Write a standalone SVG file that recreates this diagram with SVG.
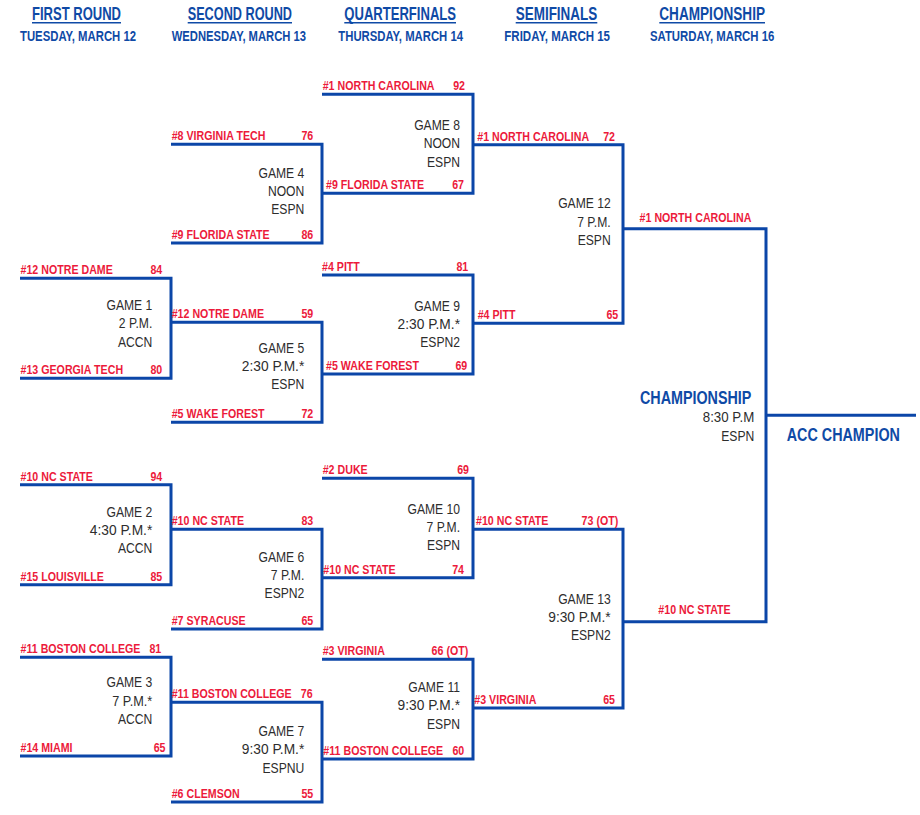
<svg xmlns="http://www.w3.org/2000/svg" width="920" height="815" viewBox="0 0 920 815">
<style>
.bg{fill:#ffffff}
.ln{fill:none;stroke:#0b46a8;stroke-width:3;stroke-linejoin:miter;stroke-linecap:butt}
.ul{stroke:#0f4aa6;stroke-width:1.4}
.h{font-family:"Liberation Sans",Arial,sans-serif;font-weight:bold;font-size:18.5px;fill:#0f4aa6}
.d{font-family:"Liberation Sans",Arial,sans-serif;font-weight:bold;font-size:14px;fill:#0f4aa6}
.t{font-family:"Liberation Sans",Arial,sans-serif;font-weight:bold;font-size:13px;fill:#ec1a3b}
.s{font-family:"Liberation Sans",Arial,sans-serif;font-weight:bold;font-size:13px;fill:#ec1a3b;text-anchor:end}
.c{font-family:"Liberation Sans",Arial,sans-serif;font-weight:bold;font-size:13px;fill:#ec1a3b;text-anchor:middle}
.g{font-family:"Liberation Sans",Arial,sans-serif;font-size:14.8px;fill:#2d2d2d;text-anchor:end}
.b{font-family:"Liberation Sans",Arial,sans-serif;font-weight:bold;font-size:19px;fill:#0f4aa6}
</style>
<rect class="bg" x="0" y="0" width="920" height="815"/>

<g id="headers">
  <text class="h" x="32" y="20" textLength="89" lengthAdjust="spacingAndGlyphs">FIRST ROUND</text>
  <line class="ul" x1="32" y1="22.7" x2="121" y2="22.7"/>
  <text class="d" x="20" y="40.7" textLength="116" lengthAdjust="spacingAndGlyphs">TUESDAY, MARCH 12</text>
  <text class="h" x="187.7" y="20" textLength="104.3" lengthAdjust="spacingAndGlyphs">SECOND ROUND</text>
  <line class="ul" x1="187.7" y1="22.7" x2="292" y2="22.7"/>
  <text class="d" x="171.7" y="40.7" textLength="134.3" lengthAdjust="spacingAndGlyphs">WEDNESDAY, MARCH 13</text>
  <text class="h" x="344.3" y="20" textLength="111.7" lengthAdjust="spacingAndGlyphs">QUARTERFINALS</text>
  <line class="ul" x1="344.3" y1="22.7" x2="456" y2="22.7"/>
  <text class="d" x="338.3" y="40.7" textLength="124.7" lengthAdjust="spacingAndGlyphs">THURSDAY, MARCH 14</text>
  <text class="h" x="515.7" y="20" textLength="81.6" lengthAdjust="spacingAndGlyphs">SEMIFINALS</text>
  <line class="ul" x1="515.7" y1="22.7" x2="597.3" y2="22.7"/>
  <text class="d" x="504.3" y="40.7" textLength="105.7" lengthAdjust="spacingAndGlyphs">FRIDAY, MARCH 15</text>
  <text class="h" x="659.3" y="20" textLength="105.7" lengthAdjust="spacingAndGlyphs">CHAMPIONSHIP</text>
  <line class="ul" x1="659.3" y1="22.7" x2="765" y2="22.7"/>
  <text class="d" x="650" y="40.7" textLength="124.3" lengthAdjust="spacingAndGlyphs">SATURDAY, MARCH 16</text>
</g>

<g id="connectors">
  <path class="ln" d="M20 278.3 H171 V378.3 H20"/>
  <path class="ln" d="M20 484.7 H171 V584.7 H20"/>
  <path class="ln" d="M20 657.3 H171 V756 H20"/>
  <path class="ln" d="M171 144.3 H322 V243 H171"/>
  <path class="ln" d="M171 322.3 H322 V422.3 H171"/>
  <path class="ln" d="M171 529.3 H322 V629 H171"/>
  <path class="ln" d="M171 702.3 H322 V802 H171"/>
  <path class="ln" d="M322 94.3 H473 V193.3 H322"/>
  <path class="ln" d="M322 275 H473 V374 H322"/>
  <path class="ln" d="M322 478.3 H473 V577.7 H322"/>
  <path class="ln" d="M322 659.3 H473 V759 H322"/>
  <path class="ln" d="M473 144.8 H623 V323.3 H473"/>
  <path class="ln" d="M473 529.3 H623 V708 H473"/>
  <path class="ln" d="M623 228.8 H766 V621.7 H623"/>
  <path class="ln" d="M766 415.3 H916"/>
</g>

<g id="game-1">
  <text class="t" transform="translate(20.5 274.3) scale(.82 1)">#12 NOTRE DAME</text>
  <text class="s" transform="translate(162.3 274.3) scale(.82 1)">84</text>
  <text class="g" transform="translate(152.3 310) scale(.82 1)">GAME 1</text>
  <text class="g" transform="translate(152.3 328.3) scale(.82 1)">2 P.M.</text>
  <text class="g" transform="translate(152.3 346.7) scale(.82 1)">ACCN</text>
  <text class="t" transform="translate(20.5 374.3) scale(.82 1)">#13 GEORGIA TECH</text>
  <text class="s" transform="translate(162.3 374.3) scale(.82 1)">80</text>
</g>
<g id="game-2">
  <text class="t" transform="translate(20.5 480.7) scale(.82 1)">#10 NC STATE</text>
  <text class="s" transform="translate(162.3 480.7) scale(.82 1)">94</text>
  <text class="g" transform="translate(152.3 516.7) scale(.82 1)">GAME 2</text>
  <text class="g" transform="translate(152.3 535) scale(.93 1)">4:30 P.M.*</text>
  <text class="g" transform="translate(152.3 553.3) scale(.82 1)">ACCN</text>
  <text class="t" transform="translate(20.5 580.7) scale(.82 1)">#15 LOUISVILLE</text>
  <text class="s" transform="translate(162.3 580.7) scale(.82 1)">85</text>
</g>
<g id="game-3">
  <text class="t" transform="translate(20.5 653.3) scale(.82 1)">#11 BOSTON COLLEGE</text>
  <text class="s" transform="translate(161.3 653.3) scale(.82 1)">81</text>
  <text class="g" transform="translate(152.3 687.3) scale(.82 1)">GAME 3</text>
  <text class="g" transform="translate(152.3 706) scale(.86 1)">7 P.M.*</text>
  <text class="g" transform="translate(152.3 724.3) scale(.82 1)">ACCN</text>
  <text class="t" transform="translate(20.5 752) scale(.82 1)">#14 MIAMI</text>
  <text class="s" transform="translate(165.5 752) scale(.82 1)">65</text>
</g>
<g id="game-4">
  <text class="t" transform="translate(171.7 140.3) scale(.82 1)">#8 VIRGINIA TECH</text>
  <text class="s" transform="translate(313.3 140.3) scale(.82 1)">76</text>
  <text class="g" transform="translate(304.3 177.5) scale(.82 1)">GAME 4</text>
  <text class="g" transform="translate(304.3 196) scale(.82 1)">NOON</text>
  <text class="g" transform="translate(304.3 214.3) scale(.82 1)">ESPN</text>
  <text class="t" transform="translate(171.7 239) scale(.82 1)">#9 FLORIDA STATE</text>
  <text class="s" transform="translate(313.3 239) scale(.82 1)">86</text>
</g>
<g id="game-5">
  <text class="t" transform="translate(171.7 318.3) scale(.82 1)">#12 NOTRE DAME</text>
  <text class="s" transform="translate(313.3 318.3) scale(.82 1)">59</text>
  <text class="g" transform="translate(304.3 353.3) scale(.82 1)">GAME 5</text>
  <text class="g" transform="translate(304.3 371) scale(.93 1)">2:30 P.M.*</text>
  <text class="g" transform="translate(304.3 389.3) scale(.82 1)">ESPN</text>
  <text class="t" transform="translate(171.7 418.3) scale(.82 1)">#5 WAKE FOREST</text>
  <text class="s" transform="translate(313.3 418.3) scale(.82 1)">72</text>
</g>
<g id="game-6">
  <text class="t" transform="translate(171.7 525.3) scale(.82 1)">#10 NC STATE</text>
  <text class="s" transform="translate(313.3 525.3) scale(.82 1)">83</text>
  <text class="g" transform="translate(304.3 561.7) scale(.82 1)">GAME 6</text>
  <text class="g" transform="translate(304.3 580) scale(.82 1)">7 P.M.</text>
  <text class="g" transform="translate(304.3 597.7) scale(.82 1)">ESPN2</text>
  <text class="t" transform="translate(171.7 625) scale(.82 1)">#7 SYRACUSE</text>
  <text class="s" transform="translate(313.3 625) scale(.82 1)">65</text>
</g>
<g id="game-7">
  <text class="t" transform="translate(171.7 698.3) scale(.82 1)">#11 BOSTON COLLEGE</text>
  <text class="s" transform="translate(312.7 698.3) scale(.82 1)">76</text>
  <text class="g" transform="translate(304.3 735.7) scale(.82 1)">GAME 7</text>
  <text class="g" transform="translate(304.3 754) scale(.93 1)">9:30 P.M.*</text>
  <text class="g" transform="translate(304.3 772.7) scale(.82 1)">ESPNU</text>
  <text class="t" transform="translate(171.7 798) scale(.82 1)">#6 CLEMSON</text>
  <text class="s" transform="translate(313.3 798) scale(.82 1)">55</text>
</g>
<g id="game-8">
  <text class="t" transform="translate(322.7 90.3) scale(.82 1)">#1 NORTH CAROLINA</text>
  <text class="s" transform="translate(465 90.3) scale(.82 1)">92</text>
  <text class="g" transform="translate(460 130) scale(.82 1)">GAME 8</text>
  <text class="g" transform="translate(460 148.3) scale(.82 1)">NOON</text>
  <text class="g" transform="translate(460 166.7) scale(.82 1)">ESPN</text>
  <text class="t" transform="translate(326 189.3) scale(.82 1)">#9 FLORIDA STATE</text>
  <text class="s" transform="translate(464 189.3) scale(.82 1)">67</text>
</g>
<g id="game-9">
  <text class="t" transform="translate(322 271) scale(.82 1)">#4 PITT</text>
  <text class="s" transform="translate(468.3 271) scale(.82 1)">81</text>
  <text class="g" transform="translate(460 311) scale(.82 1)">GAME 9</text>
  <text class="g" transform="translate(460 328.7) scale(.93 1)">2:30 P.M.*</text>
  <text class="g" transform="translate(460 347) scale(.82 1)">ESPN2</text>
  <text class="t" transform="translate(326 370) scale(.82 1)">#5 WAKE FOREST</text>
  <text class="s" transform="translate(467.3 370) scale(.82 1)">69</text>
</g>
<g id="game-10">
  <text class="t" transform="translate(322.7 474.3) scale(.82 1)">#2 DUKE</text>
  <text class="s" transform="translate(469 474.3) scale(.82 1)">69</text>
  <text class="g" transform="translate(460 514) scale(.82 1)">GAME 10</text>
  <text class="g" transform="translate(460 532) scale(.82 1)">7 P.M.</text>
  <text class="g" transform="translate(460 550) scale(.82 1)">ESPN</text>
  <text class="t" transform="translate(323.3 573.7) scale(.82 1)">#10 NC STATE</text>
  <text class="s" transform="translate(464 573.7) scale(.82 1)">74</text>
</g>
<g id="game-11">
  <text class="t" transform="translate(322.7 655.3) scale(.82 1)">#3 VIRGINIA</text>
  <text class="s" transform="translate(468.3 655.3) scale(.82 1)">66 (OT)</text>
  <text class="g" transform="translate(460 691.7) scale(.82 1)">GAME 11</text>
  <text class="g" transform="translate(460 710) scale(.93 1)">9:30 P.M.*</text>
  <text class="g" transform="translate(460 728.7) scale(.82 1)">ESPN</text>
  <text class="t" transform="translate(323.3 755) scale(.82 1)">#11 BOSTON COLLEGE</text>
  <text class="s" transform="translate(464.3 755) scale(.82 1)">60</text>
</g>
<g id="game-12">
  <text class="t" transform="translate(477.3 140.8) scale(.82 1)">#1 NORTH CAROLINA</text>
  <text class="s" transform="translate(615 140.8) scale(.82 1)">72</text>
  <text class="g" transform="translate(610.7 208.3) scale(.82 1)">GAME 12</text>
  <text class="g" transform="translate(610.7 226.7) scale(.82 1)">7 P.M.</text>
  <text class="g" transform="translate(610.7 245) scale(.82 1)">ESPN</text>
  <text class="t" transform="translate(477.7 319.3) scale(.82 1)">#4 PITT</text>
  <text class="s" transform="translate(618.3 319.3) scale(.82 1)">65</text>
</g>
<g id="game-13">
  <text class="t" transform="translate(476 525.3) scale(.82 1)">#10 NC STATE</text>
  <text class="s" transform="translate(618.3 525.3) scale(.82 1)">73 (OT)</text>
  <text class="g" transform="translate(610.7 604) scale(.82 1)">GAME 13</text>
  <text class="g" transform="translate(610.7 621.7) scale(.93 1)">9:30 P.M.*</text>
  <text class="g" transform="translate(610.7 640) scale(.82 1)">ESPN2</text>
  <text class="t" transform="translate(474.3 704) scale(.82 1)">#3 VIRGINIA</text>
  <text class="s" transform="translate(615 704) scale(.82 1)">65</text>
</g>
<g id="championship">
  <text class="c" transform="translate(695.5 221.5) scale(.82 1)">#1 NORTH CAROLINA</text>
  <text class="b" transform="translate(640 404) scale(.754 1)">CHAMPIONSHIP</text>
  <text class="g" transform="translate(754.3 422.3) scale(.9 1)">8:30 P.M</text>
  <text class="g" transform="translate(754.3 440.7) scale(.82 1)">ESPN</text>
  <text class="c" transform="translate(694.5 614) scale(.82 1)">#10 NC STATE</text>
</g>
<g id="acc-champion">
  <text class="b" transform="translate(786.7 440.7) scale(.756 1)">ACC CHAMPION</text>
</g>
</svg>
